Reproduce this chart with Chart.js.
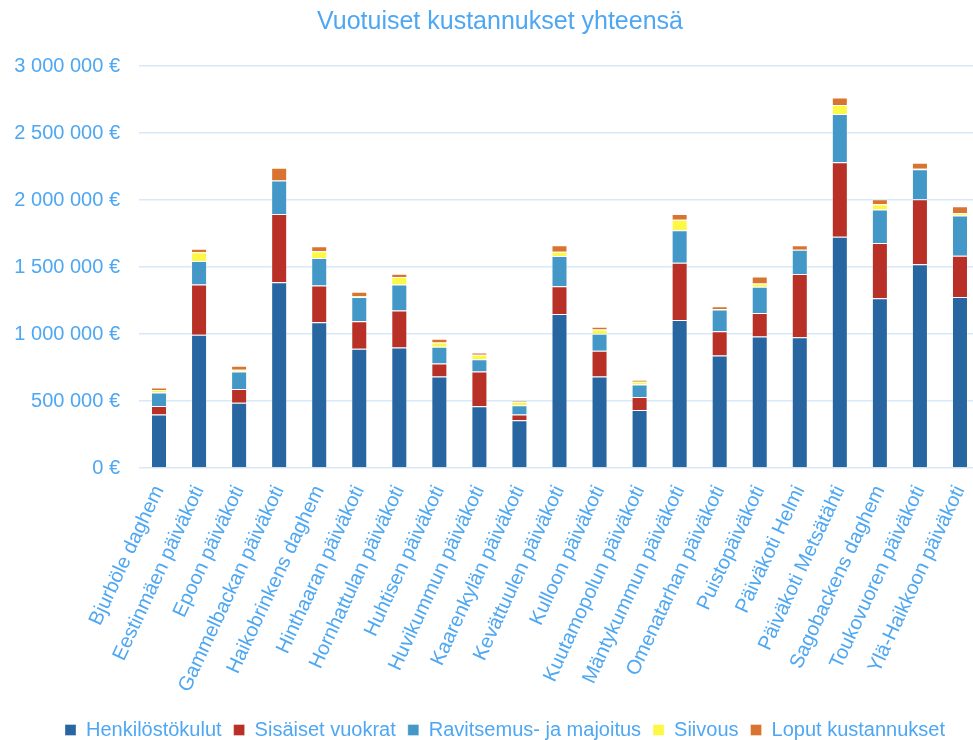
<!DOCTYPE html>
<html>
<head>
<meta charset="utf-8">
<script src="https://cdn.jsdelivr.net/npm/chart.js@4"></script>
<style>
  body { margin: 0; background: #fff; overflow: hidden; }
  #wrap { width: 1000px; height: 750px; }
</style>
</head>
<body>
<div id="wrap"><canvas id="chart"></canvas></div>
<script>
const categories = [
  'Bjurböle daghem', 'Eestinmäen päiväkoti', 'Epoon päiväkoti', 'Gammelbackan päiväkoti',
  'Haikobrinkens daghem', 'Hinthaaran päiväkoti', 'Hornhattulan päiväkoti', 'Huhtisen päiväkoti',
  'Huvikummun päiväkoti', 'Kaarenkylän päiväkoti', 'Kevättuulen päiväkoti', 'Kulloon päiväkoti',
  'Kuutamopolun päiväkoti', 'Mäntykummun päiväkoti', 'Omenatarhan päiväkoti', 'Puistopäiväkoti',
  'Päiväkoti Helmi', 'Päiväkoti Metsätähti', 'Sagobackens daghem', 'Toukovuoren päiväkoti',
  'Ylä-Haikkoon päiväkoti'
];

const henkilostokulut = [400000, 995000, 487000, 1387000, 1087000, 890000, 900000, 682000, 460000, 357000,
  1150000, 682000, 432000, 1105000, 840000, 982000, 975000, 1725000, 1267000, 1520000, 1277000];
const sisaisetVuokrat = [63000, 375000, 103000, 508000, 275000, 205000, 275000, 97000, 260000, 42000,
  207000, 193000, 97000, 427000, 180000, 175000, 472000, 557000, 412000, 485000, 307000];
const ravitsemus = [100000, 175000, 130000, 250000, 205000, 182000, 195000, 125000, 92000, 70000,
  225000, 127000, 95000, 243000, 163000, 195000, 182000, 360000, 250000, 225000, 300000];
const siivous = [20000, 65000, 13000, 0, 50000, 5000, 55000, 32000, 33000, 25000,
  32000, 32000, 20000, 77000, 3000, 25000, 0, 67000, 40000, 3000, 18000];
const loput = [17000, 27000, 30000, 95000, 37000, 33000, 25000, 28000, 17000, 10000,
  48000, 20000, 15000, 43000, 22000, 52000, 33000, 55000, 37000, 45000, 52000];

const yTicks = [0, 500000, 1000000, 1500000, 2000000, 2500000, 3000000];

const textColor = '#4ea7f2';
const gridColor = '#d7e9f8';
const font = 'Liberation Sans, Arial, sans-serif';

function euro(v) {
  return String(v).replace(/\B(?=(\d{3})+(?!\d))/g, ' ') + ' €';
}

function ds(label, data, color) {
  return {
    label: label,
    data: data,
    backgroundColor: color,
    borderColor: 'rgba(255,255,255,0.35)',
    borderWidth: 1,
    barPercentage: 0.5,
    categoryPercentage: 0.8
  };
}

// nudge title and legend to the right, like in the original
const shiftBlocks = {
  id: 'shiftBlocks',
  afterLayout(chart) {
    chart.titleBlock.left += 10;
    chart.titleBlock.right += 10;
    chart.legend.left += 15;
    chart.legend.right += 15;
  }
};

new Chart(document.getElementById('chart'), {
  type: 'bar',
  data: {
    labels: categories,
    datasets: [
      ds('Henkilöstökulut', henkilostokulut, '#2866a2'),
      ds('Sisäiset vuokrat', sisaisetVuokrat, '#b93026'),
      ds('Ravitsemus- ja majoitus', ravitsemus, '#4398c8'),
      ds('Siivous', siivous, '#fdf845'),
      ds('Loput kustannukset', loput, '#d97430')
    ]
  },
  plugins: [shiftBlocks],
  options: {
    responsive: true,
    maintainAspectRatio: false,
    animation: false,
    layout: { padding: { left: 0, right: 20, top: 0, bottom: 0 } },
    plugins: {
      title: {
        display: true,
        text: 'Vuotuiset kustannukset yhteensä',
        color: textColor,
        font: { family: font, size: 25, weight: 'normal' },
        padding: { top: 7, bottom: 29 }
      },
      legend: {
        position: 'bottom',
        labels: {
          color: textColor,
          font: { family: font, size: 20 },
          boxWidth: 11,
          boxHeight: 11,
          padding: 12
        }
      },
      tooltip: { enabled: false }
    },
    scales: {
      x: {
        stacked: true,
        grid: { display: false },
        border: { display: false },
        ticks: {
          color: textColor,
          font: { family: font, size: 20 },
          minRotation: 65,
          maxRotation: 65,
          autoSkip: false,
          padding: 6
        },
        afterFit: function (scale) { scale.height = 240; }
      },
      y: {
        stacked: true,
        min: 0,
        max: 3000000,
        afterBuildTicks: function (scale) {
          scale.ticks = yTicks.map(v => ({ value: v }));
        },
        grid: { color: gridColor, lineWidth: 1.5, drawTicks: false },
        border: { display: false },
        ticks: {
          color: textColor,
          font: { family: font, size: 20 },
          padding: 19,
          callback: v => euro(v)
        },
        afterFit: function (scale) { scale.width = 139; }
      }
    }
  }
});
</script>
</body>
</html>
